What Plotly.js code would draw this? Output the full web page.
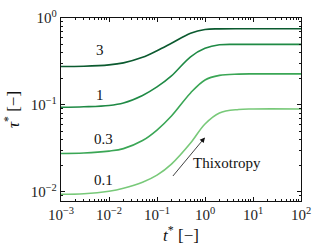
<!DOCTYPE html>
<html>
<head>
<meta charset="utf-8">
<script src="https://cdn.plot.ly/plotly-3.0.1.min.js"></script>
<style>html,body{margin:0;padding:0;background:#fff}#chart{width:332px;height:249px}</style>
</head>
<body>
<div id="chart"></div>
<script>
// time samples t*
const tStar = [0.001, 0.003, 0.01, 0.02, 0.05, 0.1, 0.2, 0.5, 1, 2, 5, 10, 100];
// tau* series, labelled by parameter value
const seriesLabels = ["3", "1", "0.3", "0.1"];
const tau3  = [0.277, 0.279, 0.289, 0.305, 0.353, 0.420, 0.512, 0.668, 0.739, 0.750, 0.753, 0.753, 0.753];
const tau1  = [0.094, 0.0953, 0.0987, 0.1054, 0.1288, 0.1613, 0.216, 0.358, 0.448, 0.492, 0.497, 0.497, 0.497];
const tau03 = [0.0277, 0.0280, 0.0295, 0.0315, 0.0390, 0.0515, 0.0747, 0.1375, 0.194, 0.219, 0.2266, 0.228, 0.228];
const tau01 = [0.0094, 0.00953, 0.0102, 0.01103, 0.01294, 0.0156, 0.0209, 0.0365, 0.0604, 0.0809, 0.0887, 0.090, 0.090];
const seriesValues = [tau3, tau1, tau03, tau01];
const colors = ["#0b5a2f", "#1f8a45", "#3aa655", "#78c979"];
// label anchor positions (data coords)
const labelX = [0.0065, 0.0065, 0.0075, 0.0075];
const labelY = [0.431, 0.130, 0.0405, 0.0137];

const xTickVals = [1e-3, 1e-2, 1e-1, 1, 10, 100];
const xTickText = ["10<sup>−3</sup>", "10<sup>−2</sup>", "10<sup>−1</sup>", "10<sup>0</sup>", "10<sup>1</sup>", "10<sup>2</sup>"];
const yTickVals = [1e-2, 1e-1, 1];
const yTickText = ["10<sup>−2</sup>", "10<sup>−1</sup>", "10<sup>0</sup>"];

function minorVals(lo, hi) {
  const out = [];
  for (let e = lo; e < hi; e++) for (let m = 2; m <= 9; m++) out.push(m * Math.pow(10, e));
  return out;
}

const traces = seriesValues.map((v, i) => ({
  x: tStar, y: v, type: "scatter", mode: "lines",
  line: {color: colors[i], width: 1.6, shape: "spline", smoothing: 1},
  hoverinfo: "skip", showlegend: false
}));

const serif = "Liberation Serif, DejaVu Serif, serif";
const annotations = seriesLabels.map((s, i) => ({
  x: Math.log10(labelX[i]), y: Math.log10(labelY[i]), xref: "x", yref: "y",
  text: s, showarrow: false, font: {family: serif, size: 15, color: "#111"}
}));
annotations.push({
  x: Math.log10(1.0), y: Math.log10(0.0424), xref: "x", yref: "y",
  ax: Math.log10(0.202), ay: Math.log10(0.01466), axref: "x", ayref: "y",
  text: "", showarrow: true, arrowhead: 2, arrowsize: 1.3, arrowwidth: 0.8, arrowcolor: "#111"
});
annotations.push({
  x: Math.log10(2.83), y: Math.log10(0.0213), xref: "x", yref: "y",
  text: "Thixotropy", showarrow: false, font: {family: serif, size: 15, color: "#111"}
});

const axisCommon = {
  type: "log", showline: true, linecolor: "#111", linewidth: 1.2, mirror: "allticks",
  ticks: "inside", ticklen: 4, tickwidth: 1, tickcolor: "#111", showgrid: false, zeroline: false,
  tickmode: "array", tickfont: {family: serif, size: 15, color: "#222"}
};

const layout = {
  width: 332, height: 249,
  margin: {l: 61, r: 31, t: 18, b: 48},
  paper_bgcolor: "#fff", plot_bgcolor: "#fff",
  xaxis: Object.assign({}, axisCommon, {
    range: [-3, 2], tickvals: xTickVals, ticktext: xTickText,
    minor: {tickmode: "array", tickvals: minorVals(-3, 2), ticks: "inside", ticklen: 2, tickcolor: "#111", showgrid: false},
    title: {text: "<i>t</i><sup>*</sup> [−]", font: {family: serif, size: 17, color: "#111"}, standoff: 4}
  }),
  yaxis: Object.assign({}, axisCommon, {
    range: [-2.104, 0], tickvals: yTickVals, ticktext: yTickText,
    minor: {tickmode: "array", tickvals: minorVals(-3, 0), ticks: "inside", ticklen: 2, tickcolor: "#111", showgrid: false},
    title: {text: "<i>τ</i><sup>*</sup> [−]", font: {family: serif, size: 17, color: "#111"}, standoff: 6}
  }),
  annotations: annotations
};

Plotly.newPlot("chart", traces, layout, {staticPlot: true, displayModeBar: false});
</script>
</body>
</html>
